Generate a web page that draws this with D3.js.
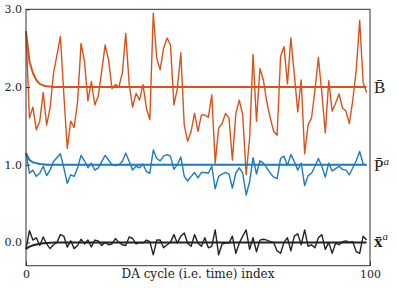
<!DOCTYPE html>
<html><head><meta charset="utf-8">
<script src="https://cdn.jsdelivr.net/npm/d3@7/dist/d3.min.js"></script>
<style>body{margin:0;background:#fff}svg{display:block}</style>
</head><body><svg id="c" width="399" height="288"></svg>
<script>
const bNoisy = [2.72,1.60,1.74,1.45,1.56,1.93,1.51,1.73,2.18,2.41,2.65,1.90,1.21,1.56,1.48,1.81,2.56,2.33,1.82,2.07,
1.77,1.88,2.20,2.54,2.35,1.98,2.03,2.00,2.18,2.69,2.03,1.74,1.92,1.83,2.03,1.73,1.58,2.95,2.37,2.22,
2.50,2.63,2.54,1.77,1.98,2.44,1.51,1.30,1.43,1.66,1.43,1.64,1.64,1.61,1.90,1.02,1.47,1.53,1.66,1.60,
1.06,1.66,1.83,1.64,0.87,1.34,2.42,1.56,2.24,2.09,1.81,1.60,1.43,1.38,2.39,2.52,2.04,2.63,2.16,1.68,
2.09,1.14,1.51,1.60,1.96,2.38,1.92,1.41,2.08,1.69,1.79,1.91,1.73,1.69,1.53,1.83,2.22,2.86,2.06,1.93];
const pNoisy = [1.15,0.89,0.93,0.85,0.89,0.98,0.86,0.93,1.04,1.09,1.14,0.96,0.76,0.87,0.85,0.96,1.12,1.05,0.96,1.02,
0.93,0.96,1.04,1.12,1.06,1.00,0.99,1.00,1.04,1.15,1.04,0.93,0.98,0.96,1.01,0.91,0.89,1.19,1.08,1.05,
1.11,1.13,1.11,0.94,1.00,1.10,0.85,0.79,0.85,0.90,0.83,0.90,0.90,0.89,0.98,0.69,0.85,0.88,0.90,0.88,
0.70,0.89,0.96,0.89,0.61,0.78,1.09,0.88,1.05,1.02,0.96,0.89,0.84,0.82,1.08,1.11,0.99,1.13,1.04,0.93,
1.02,0.73,0.86,0.89,0.98,1.08,0.98,0.84,1.02,0.92,0.95,0.98,0.94,0.93,0.87,0.96,1.05,1.17,1.01,0.99];
const xNoisy = [-0.09,0.15,0.03,0.06,-0.04,0.07,-0.02,-0.08,-0.03,0.00,0.10,0.08,-0.06,0.02,-0.08,-0.04,0.04,-0.02,0.03,-0.06,
0.03,0.02,-0.04,0.00,-0.03,-0.02,0.05,0.00,-0.03,-0.04,0.07,0.05,-0.02,0.00,-0.01,0.03,0.01,-0.16,0.03,0.03,
-0.07,-0.03,0.00,0.10,-0.01,0.08,0.12,-0.01,-0.05,0.10,-0.01,-0.05,0.06,-0.07,-0.05,0.16,-0.16,-0.02,-0.01,-0.01,
0.08,-0.14,-0.01,0.08,0.16,-0.09,0.06,-0.12,0.03,0.04,0.03,0.01,0.00,-0.11,-0.14,0.00,0.06,-0.11,0.08,0.11,
-0.03,0.16,-0.05,-0.03,-0.07,0.06,0.10,-0.09,0.00,-0.14,-0.01,-0.03,0.01,0.02,0.00,0.01,-0.12,-0.14,0.08,0.03];
// smooth (asymptotic) curves: indices and values
const smoothIdx = [0,1,2,3,4,5,6,7,8,9,10,12,99];
const bSmooth = [2.72,2.33,2.18,2.09,2.04,2.02,2.01,2.005,2.0,2.0,2.0,2.0,2.0];
const pSmooth = [1.15,1.06,1.03,1.02,1.01,1.005,1.0,1.0,1.0,1.0,1.0,1.0,1.0];
const xSmooth = [-0.085,-0.055,-0.038,-0.027,-0.018,-0.012,-0.008,-0.005,-0.003,-0.002,-0.001,0.0,0.0];
const yTicks = [0, 1, 2, 3];
const xTicks = [0, 100];

const svg = d3.select('#c');
const L = 26, R = 370, T = 9.3, B = 265.7;
const x = d3.scaleLinear().domain([0, 100]).range([L, R]);
const y = d3.scaleLinear().domain([-0.3, 3.0]).range([B, T]);
const cOr = '#d95319', cBl = '#1a7ac4', cBk = '#222';
const line = d3.line().x(d => x(d[0])).y(d => y(d[1]));
function draw(idx, vals, col, w) {
  svg.append('path').datum(vals.map((v, i) => [idx ? idx[i] : i, v]))
    .attr('d', line).attr('fill', 'none').attr('stroke', col)
    .attr('stroke-width', w).attr('stroke-linejoin', 'round');
}
draw(null, bNoisy, cOr, 1.4);
draw(smoothIdx, bSmooth, cOr, 2);
draw(null, pNoisy, cBl, 1.4);
draw(smoothIdx, pSmooth, cBl, 2);
draw(null, xNoisy, cBk, 1.4);
draw(smoothIdx, xSmooth, cBk, 2);

// frame
svg.append('rect').attr('x', L).attr('y', T).attr('width', R - L).attr('height', B - T)
  .attr('fill', 'none').attr('stroke', '#333').attr('stroke-width', 1);

const font = 'DejaVu Serif';
const yAx = svg.append('g').attr('transform', `translate(${L},0)`)
  .call(d3.axisLeft(y).tickValues(yTicks).tickFormat(d3.format('.1f')).tickSize(-4).tickPadding(4));
yAx.select('.domain').remove();
yAx.selectAll('text').attr('font-family', font).attr('font-size', 11).attr('fill', '#222');
yAx.selectAll('line').attr('stroke', '#333');
const xAx = svg.append('g').attr('transform', `translate(0,${B})`)
  .call(d3.axisBottom(x).tickValues(xTicks).tickFormat(d3.format('d')).tickSize(-4).tickPadding(5));
xAx.select('.domain').remove();
xAx.selectAll('text').attr('font-family', font).attr('font-size', 11).attr('fill', '#222');
xAx.selectAll('line').attr('stroke', '#333');

svg.append('text').attr('x', (L + R) / 2).attr('y', 278).attr('text-anchor', 'middle')
  .attr('font-family', font).attr('font-size', 12).attr('fill', '#222')
  .text('DA cycle (i.e. time) index');

const lf = 'Liberation Serif';
const t1 = svg.append('text').attr('x', 374).attr('y', y(2) + 6).attr('font-family', lf)
  .attr('font-size', 17).attr('fill', '#222').text('B\u0304');
const t2 = svg.append('text').attr('x', 374).attr('y', y(1) + 6).attr('font-family', lf)
  .attr('font-size', 17).attr('fill', '#222');
t2.append('tspan').text('P\u0304');
t2.append('tspan').attr('font-size', 11).attr('font-style', 'italic').attr('dy', -6).text('a');
const t3 = svg.append('text').attr('x', 374).attr('y', y(0) + 5).attr('font-family', lf)
  .attr('font-size', 17).attr('fill', '#222');
t3.append('tspan').attr('font-weight', 'bold').text('x\u0304');
t3.append('tspan').attr('font-size', 11).attr('font-style', 'italic').attr('dy', -7).text('a');
</script></body></html>
